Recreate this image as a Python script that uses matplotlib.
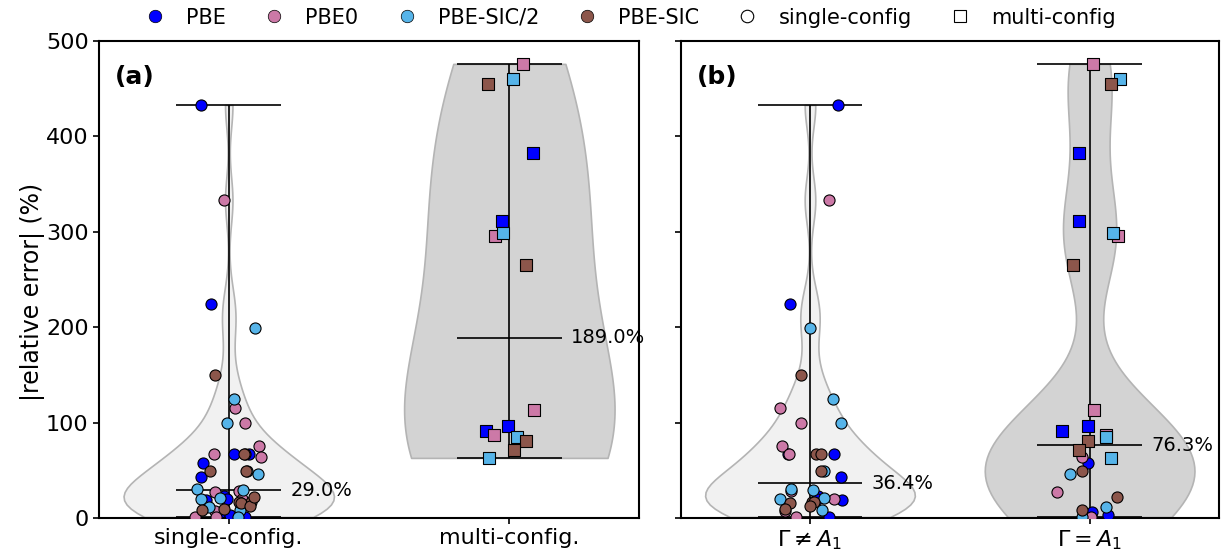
import numpy as np
import matplotlib.pyplot as plt
from matplotlib.lines import Line2D

methods = ["PBE", "PBE0", "PBE-SIC/2", "PBE-SIC"]
method_colors = ["#0000ff", "#cc79a7", "#56b4e9", "#8c564b"]

# |relative error| (%) of single-config systems with Gamma != A1
single_other_pbe = [433.0, 224.5, 66.6, 66.6, 42.8, 22.6, 20.0, 18.5, 1.0]
single_other_pbe0 = [333.0, 114.8, 99.5, 75.0, 66.6, 28.6, 19.9, 6.9, 1.0]
single_other_sic2 = [199.3, 124.7, 99.5, 49.5, 30.0, 29.4, 21.0, 19.9, 8.7]
single_other_sic = [149.4, 66.6, 66.6, 49.5, 17.1, 17.0, 15.7, 12.2, 9.7]

# single-config systems with Gamma = A1
single_a1_pbe = [57.5, 6.7, 3.2]
single_a1_pbe0 = [63.9, 27.7, 1.0]
single_a1_sic2 = [46.0, 12.0, 1.0]
single_a1_sic = [49.5, 21.8, 7.9]

# multi-config systems (all Gamma = A1)
multi_pbe = [383.0, 311.0, 96.0, 91.5]
multi_pbe0 = [476.0, 296.0, 113.0, 87.0]
multi_sic2 = [460.0, 299.0, 84.5, 63.0]
multi_sic = [455.0, 265.0, 81.0, 71.6]

panel_a_labels = ["single-config.", "multi-config."]
panel_b_labels = [r"$\Gamma \neq A_1$", r"$\Gamma = A_1$"]

single_other = [single_other_pbe, single_other_pbe0, single_other_sic2, single_other_sic]
single_a1 = [single_a1_pbe, single_a1_pbe0, single_a1_sic2, single_a1_sic]
multi = [multi_pbe, multi_pbe0, multi_sic2, multi_sic]

light = (211 / 255, 211 / 255, 211 / 255, 0.3)
dark = (211 / 255, 211 / 255, 211 / 255, 1.0)

rng = np.random.default_rng(3)


def draw_panel(ax, groups, faces, labels, bws):
    # each group: list of (method index, marker, values)
    data = [np.concatenate([v for _, _, v in g]) for g in groups]
    for pos, (d, fc, bw) in enumerate(zip(data, faces, bws)):
        parts = ax.violinplot([d], positions=[pos], widths=0.75, bw_method=bw,
                              showextrema=True, showmedians=True)
        body = parts["bodies"][0]
        body.set_alpha(None)
        body.set_facecolor(fc)
        body.set_edgecolor("#b4b4b4")
        body.set_linewidth(1.2)
        for key in ["cbars", "cmins", "cmaxes", "cmedians"]:
            parts[key].set_color("black")
            parts[key].set_linewidth(1.2)

    for pos, g in enumerate(groups):
        for mi, marker, vals in g:
            vals = np.asarray(vals)
            x = pos + rng.uniform(-0.12, 0.12, len(vals))
            ax.scatter(x, vals, s=64 if marker == "o" else 72, marker=marker,
                       color=method_colors[mi], edgecolor="black",
                       linewidth=0.8, zorder=3)

    for pos, d in enumerate(data):
        med = np.median(d)
        ax.text(pos + 0.22, med, f"{med:.1f}%", ha="left", va="center",
                fontsize=14)

    ax.set_xticks([0, 1])
    ax.set_xticklabels(labels, fontsize=16)
    ax.set_xlim(-0.4625, 1.4625)
    ax.set_ylim(0, 500)
    for sp in ax.spines.values():
        sp.set_linewidth(1.5)
    ax.tick_params(width=1.2, length=4, labelsize=16)


fig = plt.figure(figsize=(12.22, 5.52), dpi=100)
ax_a = fig.add_axes([0.081, 0.0616, 0.442, 0.8641])
ax_b = fig.add_axes([0.557, 0.0616, 0.4405, 0.8641], sharey=ax_a)

groups_a = [
    [(i, "o", single_other[i] + single_a1[i]) for i in range(4)],
    [(i, "s", multi[i]) for i in range(4)],
]
groups_b = [
    [(i, "o", single_other[i]) for i in range(4)],
    [(i, "o", single_a1[i]) for i in range(4)] + [(i, "s", multi[i]) for i in range(4)],
]

draw_panel(ax_a, groups_a, [light, dark], panel_a_labels, [0.3, 0.7])
draw_panel(ax_b, groups_b, [light, dark], panel_b_labels, [0.27, 0.35])

ax_a.set_yticks([0, 100, 200, 300, 400, 500])
ax_a.set_ylabel("|relative error| (%)", fontsize=17)
ax_a.yaxis.set_label_coords(-0.1, 0.474)
plt.setp(ax_b.get_yticklabels(), visible=False)

ax_a.text(0.03, 0.925, "(a)", transform=ax_a.transAxes, fontsize=18,
          fontweight="bold", va="center")
ax_b.text(0.03, 0.925, "(b)", transform=ax_b.transAxes, fontsize=18,
          fontweight="bold", va="center")

handles = [Line2D([], [], ls="none", marker="o", markersize=9,
                  markerfacecolor=c, markeredgecolor="black",
                  markeredgewidth=0.5, label=m)
           for m, c in zip(methods, method_colors)]
handles.append(Line2D([], [], ls="none", marker="o", markersize=9,
                      markerfacecolor="white", markeredgecolor="black",
                      markeredgewidth=0.8, label="single-config"))
handles.append(Line2D([], [], ls="none", marker="s", markersize=9,
                      markerfacecolor="white", markeredgecolor="black",
                      markeredgewidth=0.8, label="multi-config"))
fig.legend(handles=handles, loc="upper center", ncol=6, frameon=False,
           bbox_to_anchor=(0.514, 1.02), fontsize=15, handlelength=1.4,
           handletextpad=0.8, columnspacing=1.6)

fig.savefig("out.png", dpi=100)
